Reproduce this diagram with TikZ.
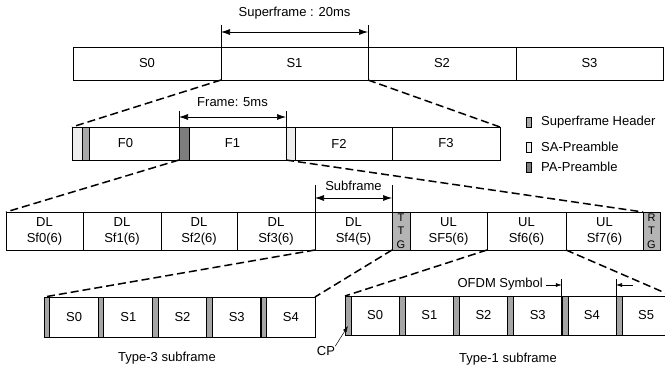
\documentclass[tikz,border=0pt]{standalone}
\usepackage{fontspec}
\setmainfont{Liberation Sans}
\usetikzlibrary{arrows.meta}
\definecolor{hdrc}{RGB}{168,168,168}
\definecolor{sac}{RGB}{238,238,238}
\definecolor{pac}{RGB}{125,125,125}
\definecolor{gapc}{RGB}{180,180,180}
\definecolor{cpc}{RGB}{165,165,165}
\begin{document}
\begin{tikzpicture}[x=1pt,y=-1pt,
  cell/.style={draw,line width=0.7pt,inner sep=0pt,outer sep=0pt,font=\fontsize{13}{16}\selectfont,align=center},
  dashline/.style={line width=1.5pt,dash pattern=on 8pt off 4pt},
  dim/.style={{Latex[length=9pt,width=6pt]}-{Latex[length=9pt,width=6pt]},line width=0.7pt},
  ext/.style={line width=0.7pt},
  small arrow/.style={-{Latex[length=6pt,width=4pt]},line width=0.6pt},
  bar/.style={draw,line width=0.6pt},
  lbl/.style={font=\fontsize{13}{15}\selectfont,inner sep=0pt}]
\useasboundingbox (0,0) rectangle (665,376);
\clip (0,0) rectangle (665,376);

% ---- Row 1: superframes
\node[cell,minimum width=148pt,minimum height=33pt] (s0) at (147,63.5) {S0};
\node[cell,minimum width=147pt,minimum height=33pt] (s1) at (294.5,63.5) {S1};
\node[cell,minimum width=148pt,minimum height=33pt] (s2) at (442,63.5) {S2};
\node[cell,minimum width=147pt,minimum height=33pt] (s3) at (589.5,63.5) {S3};

\draw[ext] (s1.north west) -- (s1.north west |- 0,25);
\draw[ext] (s1.north east) -- (s1.north east |- 0,25);
\draw[dim] (s1.north west |- 0,32) -- (s1.north east |- 0,32);
\node[lbl] (sflbl) at (294.5,13) {Superframe : 20ms};

% ---- Row 2: frames
\node[cell,minimum width=107pt,minimum height=33pt] (f0) at (125.5,143.5) {F0};
\node[cell,minimum width=107pt,minimum height=33pt] (f1) at (232.5,143.5) {F1};
\node[cell,minimum width=106pt,minimum height=33pt] (f2) at (339,143.5) {F2};
\node[cell,minimum width=108pt,minimum height=33pt] (f3) at (446,143.5) {F3};
\draw[bar,fill=sac] (72,127) rectangle (82,160);
\draw[bar,fill=hdrc] (82,127) rectangle (89,160);
\draw[bar,fill=pac] (179,127) rectangle (189,160);
\draw[bar,fill=sac] (286,127) rectangle (295,160);

\draw[ext] (f1.north west) -- (f1.north west |- 0,111);
\draw[ext] (f1.north east) -- (f1.north east |- 0,111);
\draw[dim] (f1.north west |- 0,117) -- (f1.north east |- 0,117);
\node[lbl] (frlbl) at (232.5,102) {Frame: 5ms};

\draw[dashline] (s1.south west) -- (f0.north west);
\draw[dashline] (s1.south east) -- (f3.north east);

% ---- Legend
\draw[bar,fill=hdrc] (526,117) rectangle (531,127);
\draw[bar,fill=sac] (526,142) rectangle (531,152);
\draw[bar,fill=pac] (526,162) rectangle (531,172);
\node[lbl,anchor=west] (lg1) at (541,122) {Superframe Header};
\node[lbl,anchor=west] (lg2) at (541,147) {SA-Preamble};
\node[lbl,anchor=west] (lg3) at (541,167) {PA-Preamble};

% ---- Row 3: subframes
\node[cell,minimum width=77pt,minimum height=38pt] (sf0) at (44.5,231) {DL\\Sf0(6)};
\node[cell,minimum width=78pt,minimum height=38pt] (sf1) at (122,231) {DL\\Sf1(6)};
\node[cell,minimum width=76pt,minimum height=38pt] (sf2) at (199,231) {DL\\Sf2(6)};
\node[cell,minimum width=78pt,minimum height=38pt] (sf3) at (276,231) {DL\\Sf3(6)};
\node[cell,minimum width=77pt,minimum height=38pt] (sf4) at (353.5,231) {DL\\Sf4(5)};
\node[cell,fill=gapc,minimum width=18pt,minimum height=38pt,font=\fontsize{11}{13.5}\selectfont] (ttg) at (401,231) {T\\T\\G};
\node[cell,minimum width=77pt,minimum height=38pt] (sf5) at (448.5,231) {UL\\SF5(6)};
\node[cell,minimum width=79pt,minimum height=38pt] (sf6) at (526.5,231) {UL\\Sf6(6)};
\node[cell,minimum width=77pt,minimum height=38pt] (sf7) at (604.5,231) {UL\\Sf7(6)};
\node[cell,fill=gapc,minimum width=17pt,minimum height=38pt,font=\fontsize{11}{13.5}\selectfont] (rtg) at (651.5,231) {R\\T\\G};

\draw[ext] (sf4.north west) -- (sf4.north west |- 0,185);
\draw[ext] (sf4.north east) -- (sf4.north east |- 0,185);
\draw[dim] (sf4.north west |- 0,198) -- (sf4.north east |- 0,198);
\node[lbl] (sublbl) at (353.5,186) {Subframe};

\draw[dashline] (f1.south west) -- (sf0.north west);
\draw[dashline] (f1.south east) -- (rtg.north west);

% ---- Row 4 left: type-3 subframe
\node[cell,minimum width=54.2pt,minimum height=40pt] (t3a) at (71.1,317) {\hspace*{6pt}S0};
\node[cell,minimum width=54.2pt,minimum height=40pt] (t3b) at (125.3,317) {\hspace*{6pt}S1};
\node[cell,minimum width=54.2pt,minimum height=40pt] (t3c) at (179.5,317) {\hspace*{6pt}S2};
\node[cell,minimum width=54.2pt,minimum height=40pt] (t3d) at (233.7,317) {\hspace*{6pt}S3};
\node[cell,minimum width=54.2pt,minimum height=40pt] (t3e) at (287.9,317) {\hspace*{6pt}S4};
\foreach \n in {t3a,t3b,t3c,t3d,t3e}{
  \draw[bar,fill=cpc] (\n.south west) rectangle ([xshift=5.5pt]\n.north west);
}
\node[lbl] (t3lbl) at (167,358) {Type-3 subframe};

% ---- Row 4 right: type-1 subframe
\node[cell,minimum width=54.2pt,minimum height=39pt] (t1a) at (372.1,315.5) {\hspace*{6pt}S0};
\node[cell,minimum width=54.2pt,minimum height=39pt] (t1b) at (426.3,315.5) {\hspace*{6pt}S1};
\node[cell,minimum width=54.2pt,minimum height=39pt] (t1c) at (480.5,315.5) {\hspace*{6pt}S2};
\node[cell,minimum width=54.2pt,minimum height=39pt] (t1d) at (534.7,315.5) {\hspace*{6pt}S3};
\node[cell,minimum width=54.2pt,minimum height=39pt] (t1e) at (588.9,315.5) {\hspace*{6pt}S4};
\node[cell,minimum width=54.2pt,minimum height=39pt] (t1f) at (643.1,315.5) {\hspace*{6pt}S5};
\foreach \n in {t1a,t1b,t1c,t1d,t1e,t1f}{
  \draw[bar,fill=cpc] (\n.south west) rectangle ([xshift=6pt]\n.north west);
}
\node[lbl] (t1lbl) at (508,359) {Type-1 subframe};

% OFDM symbol marker
\draw[ext] (t1e.north west) -- (t1e.north west |- 0,279);
\draw[ext] (t1f.north west) -- (t1f.north west |- 0,279);
\coordinate (oa) at (546,285);
\coordinate (ob) at (633,285);
\draw[small arrow] (oa) -- (t1e.north west |- oa);
\draw[small arrow] (ob) -- (t1f.north west |- ob);
\node[lbl,anchor=east] (ofdm) at (543,284) {OFDM Symbol};

% CP marker
\node[lbl] (cp) at (326,351) {CP};
\coordinate (cptip) at (348,326);
\draw[small arrow,line width=0.5pt] (cp.north east) -- (cptip);

\draw[dashline] (sf4.south west) -- (t3a.north west);
\draw[dashline] (sf4.south east) -- (t3e.north east);
\draw[dashline] (sf6.south west) -- (t1a.north west);
\coordinate (offr) at (700,308);
\draw[dashline] (sf6.south east) -- (offr);
\end{tikzpicture}
\end{document}
